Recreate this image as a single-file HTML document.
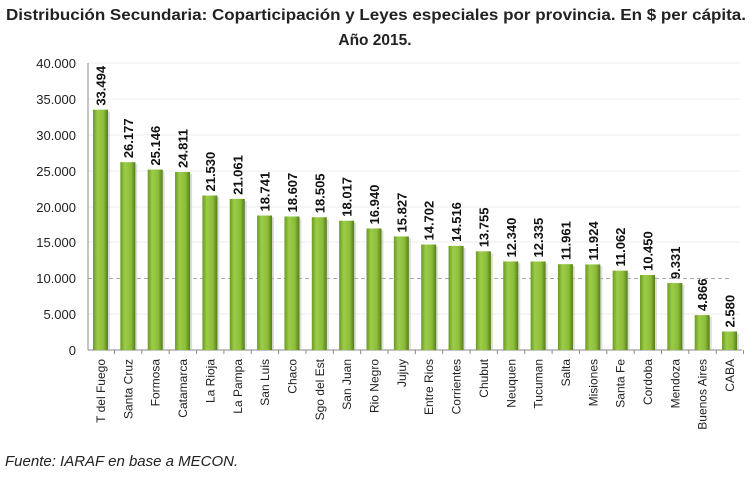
<!DOCTYPE html>
<html><head><style>body{margin:0;background:#fff}svg{display:block}</style></head><body>
<svg width="750" height="479" xmlns="http://www.w3.org/2000/svg" font-family="Liberation Sans, sans-serif">
<defs>
<linearGradient id="g" x1="0" x2="1" y1="0" y2="0">
<stop offset="0" stop-color="#6a9a22"/><stop offset="0.3" stop-color="#9ccc48"/><stop offset="0.7" stop-color="#8cbd3a"/><stop offset="1" stop-color="#557d18"/>
</linearGradient>
</defs>
<text x="376" y="20" text-anchor="middle" font-size="15.5" font-weight="bold" fill="#222" textLength="740" lengthAdjust="spacingAndGlyphs">Distribución Secundaria: Coparticipación y Leyes especiales por provincia. En $ per cápita.</text>
<text x="375" y="45" text-anchor="middle" font-size="15.5" font-weight="bold" fill="#222">Año 2015.</text>
<g stroke="#ececec" stroke-width="1">
<line x1="88" x2="740" y1="63" y2="63"/><line x1="88" x2="740" y1="99" y2="99"/><line x1="88" x2="740" y1="135" y2="135"/><line x1="88" x2="740" y1="171" y2="171"/><line x1="88" x2="740" y1="207" y2="207"/><line x1="88" x2="740" y1="242" y2="242"/><line x1="88" x2="740" y1="314" y2="314"/>
</g>
<line x1="88" x2="730" y1="278.5" y2="278.5" stroke="#aaa" stroke-dasharray="4,3"/>
<line x1="88" x2="88" y1="63" y2="350" stroke="#888"/>
<line x1="88" x2="742" y1="350" y2="350" stroke="#888"/>
<g font-size="13" fill="#222" text-anchor="end">
<text x="76" y="68">40.000</text><text x="76" y="104">35.000</text><text x="76" y="140">30.000</text><text x="76" y="176">25.000</text><text x="76" y="212">20.000</text><text x="76" y="247">15.000</text><text x="76" y="283">10.000</text><text x="76" y="319">5.000</text><text x="76" y="355">0</text>
</g>
<g id="bars"></g>
</svg>
<script>
var d=[["T del Fuego",33494,"33.494"],["Santa Cruz",26177,"26.177"],["Formosa",25146,"25.146"],["Catamarca",24811,"24.811"],["La Rioja",21530,"21.530"],["La Pampa",21061,"21.061"],["San Luis",18741,"18.741"],["Chaco",18607,"18.607"],["Sgo del Est",18505,"18.505"],["San Juan",18017,"18.017"],["Rio Negro",16940,"16.940"],["Jujuy",15827,"15.827"],["Entre Rios",14702,"14.702"],["Corrientes",14516,"14.516"],["Chubut",13755,"13.755"],["Neuquen",12340,"12.340"],["Tucuman",12335,"12.335"],["Salta",11961,"11.961"],["Misiones",11924,"11.924"],["Santa Fe",11062,"11.062"],["Cordoba",10450,"10.450"],["Mendoza",9331,"9.331"],["Buenos Aires",4866,"4.866"],["CABA",2580,"2.580"]];
var s="";
d.forEach(function(r,i){var cx=100.5+i*27.35,h=r[1]*287/40000,y=350-h;
s+='<rect x="'+(cx-7.5+2)+'" y="'+(y+2)+'" width="15" height="'+(h-2)+'" fill="#bbb" opacity="0.5"/>';
s+='<rect x="'+(cx-7.5)+'" y="'+y+'" width="15" height="'+h+'" fill="url(#g)"/>';
s+='<line x1="'+(cx+14)+'" x2="'+(cx+14)+'" y1="350" y2="354" stroke="#888"/>';
s+='<text transform="translate('+(cx+5)+','+(y-4)+') rotate(-90)" font-size="13" font-weight="bold" fill="#111">'+r[2]+'</text>';
s+='<text transform="translate('+(cx+4.5)+',359) rotate(-90)" font-size="12" fill="#222" text-anchor="end">'+r[0]+'</text>';});
document.getElementById("bars").innerHTML=s;
</script>
<div style="position:absolute;left:5px;top:453px;font:italic 15px 'Liberation Sans',sans-serif;color:#222">Fuente: IARAF en base a MECON.</div>
</body></html>
